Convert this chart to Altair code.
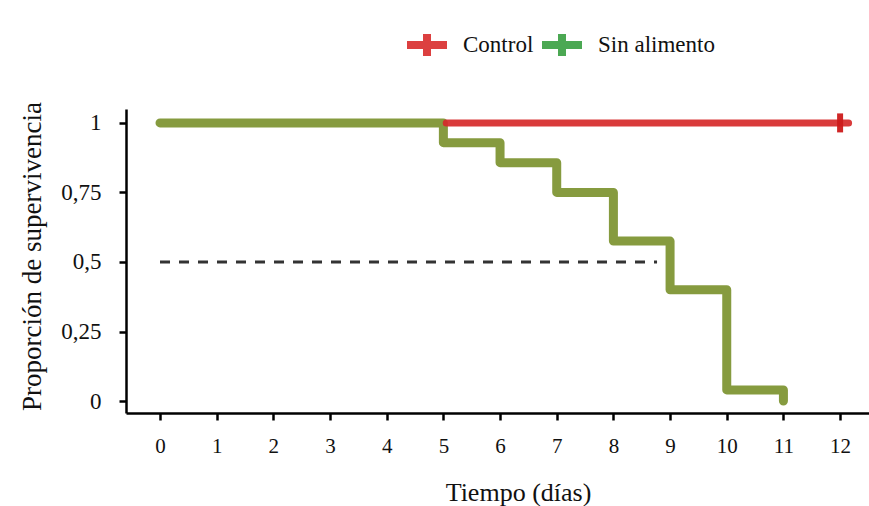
import altair as alt
import pandas as pd

# --- data ---
tiempo_sin = [0, 5, 6, 7, 8, 9, 10, 11]
surv_sin = [1.0, 0.929, 0.857, 0.75, 0.575, 0.40, 0.04, 0.0]

tiempo_control = [5.05, 12.15]
surv_control = [1.0, 1.0]

censor_t = [12]
censor_s = [1.0]

mediana_t = [0, 8.77]
mediana_s = [0.5, 0.5]

grupos = ["Control", "Sin alimento"]
x_ticks = list(range(0, 13))
y_ticks = [0, 0.25, 0.5, 0.75, 1]

SERIF = "Liberation Serif"
RED = "#d62a2a"
OLIVE = "#869b3f"

df_sin = pd.DataFrame({"t": tiempo_sin, "s": surv_sin})
df_ctrl = pd.DataFrame({"t": tiempo_control, "s": surv_control})
df_cens = pd.DataFrame({"t": censor_t, "s": censor_s})
df_med = pd.DataFrame({"t": mediana_t, "s": mediana_s})
df_leg = pd.DataFrame({"t": [0, 0], "s": [0, 0], "grupo": grupos})

xscale = alt.Scale(domain=[-0.6, 12.51], nice=False, zero=False)
yscale = alt.Scale(domain=[-0.043, 1.05], nice=False, zero=False)

x_enc = alt.X("t:Q", scale=xscale, axis=alt.Axis(
    values=x_ticks, title="Tiempo (días)", format="d",
    titleX=392, titleY=87, titleBaseline="alphabetic", titleAnchor="start", titleAlign="center",
    titleFontSize=26, labelPadding=15, labelFontSize=21,
))
y_enc = alt.Y("s:Q", scale=yscale, axis=alt.Axis(
    values=y_ticks, title="Proporción de supervivencia",
    labelExpr="replace(toString(datum.value), '.', ',')",
    titleX=-86, titleY=147, titleBaseline="alphabetic", titleAngle=-90, titleAlign="center",
    titleFontSize=27, labelPadding=18, labelFontSize=23,
))

mediana = alt.Chart(df_med).mark_line(
    color="#333333", strokeWidth=3, strokeDash=[10, 9]
).encode(x=x_enc, y=y_enc)

sin = alt.Chart(df_sin).mark_line(
    color=OLIVE, strokeWidth=9, interpolate="step-after", strokeJoin="round", strokeCap="round"
).encode(x="t:Q", y="s:Q")

ctrl = alt.Chart(df_ctrl).mark_line(
    color=RED, strokeWidth=7, strokeCap="round", opacity=0.92
).encode(x="t:Q", y="s:Q")

cens = alt.Chart(df_cens).mark_tick(
    color="#cc1a1a", orient="vertical", size=19, thickness=6, opacity=0.95
).encode(x="t:Q", y="s:Q")

legend = alt.Chart(df_leg).mark_line().transform_filter("false").encode(
    x="t:Q", y="s:Q",
    stroke=alt.Stroke("grupo:N", scale=alt.Scale(domain=grupos, range=["#d61f1f", "#2c9a36"]),
                      legend=alt.Legend(
                          title=None, orient="none", direction="horizontal",
                          legendX=277, legendY=-88,
                          symbolType="M-1,0H1M0,-0.55V0.55", symbolSize=1600,
                          symbolStrokeWidth=8, symbolOpacity=0.85,
                          labelFont=SERIF, labelFontSize=23, labelColor="#111111",
                          labelOffset=12, columnPadding=-8, padding=0,
                      )),
)

chart = alt.layer(mediana, sin, ctrl, cens, legend).properties(
    width=743, height=304,
    autosize=alt.AutoSizeParams(type="none"),
    padding={"left": 126, "top": 109, "right": 0, "bottom": 93},
    background="white",
).configure_view(stroke=None).configure_axis(
    grid=False, domainColor="#000000", domainWidth=2.5, tickColor="#000000",
    tickWidth=2.5, tickSize=7, labelFont=SERIF, labelColor="#111111",
    titleFont=SERIF, titleColor="#111111", titleFontWeight="normal",
)

chart.save("out.html", embed_options={"renderer": "svg", "actions": False})
